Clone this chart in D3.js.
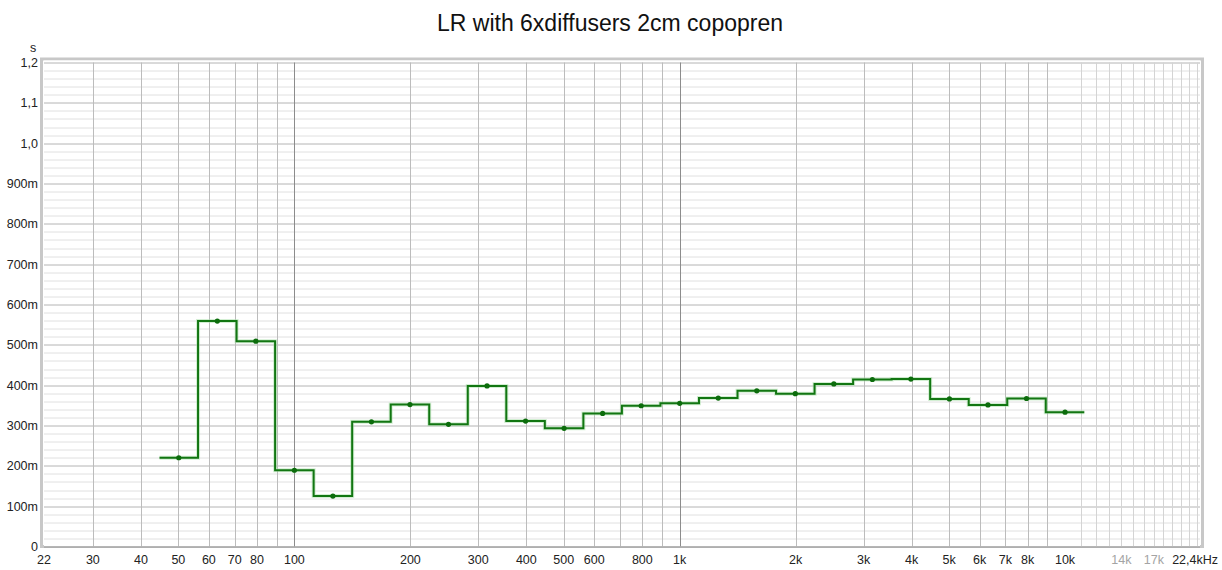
<!DOCTYPE html>
<html>
<head>
<meta charset="utf-8">
<script src="https://cdn.jsdelivr.net/npm/d3@7"></script>
<style>
  body { margin: 0; background: #fff; }
  text { font-family: "Liberation Sans", Arial, sans-serif; }
</style>
</head>
<body>
<div id="d3-container"></div>
<script>
// third octave band centres (Hz, nominal) and RT values (s)
const bands = [50, 63, 80, 100, 125, 160, 200, 250, 315, 400, 500, 630, 800,
  1000, 1250, 1600, 2000, 2500, 3150, 4000, 5000, 6300, 8000, 10000];
const rt = [0.220, 0.559, 0.509, 0.189, 0.125, 0.309, 0.352, 0.303, 0.398, 0.311, 0.293, 0.330, 0.349,
  0.355, 0.368, 0.386, 0.379, 0.403, 0.414, 0.415, 0.366, 0.351, 0.367, 0.333];

// tick labels
const xTicks = [22.4, 30, 40, 50, 60, 70, 80, 100, 200, 300, 400, 500, 600, 800,
  1000, 2000, 3000, 4000, 5000, 6000, 7000, 8000, 10000, 14000, 17000, 22400];
const xTickLabels = ["22", "30", "40", "50", "60", "70", "80", "100", "200", "300", "400", "500", "600", "800",
  "1k", "2k", "3k", "4k", "5k", "6k", "7k", "8k", "10k", "14k", "17k", "22,4kHz"];
const yTicks = [0, 0.1, 0.2, 0.3, 0.4, 0.5, 0.6, 0.7, 0.8, 0.9, 1.0, 1.1, 1.2];
const yTickLabels = ["0", "100m", "200m", "300m", "400m", "500m", "600m", "700m", "800m", "900m", "1,0", "1,1", "1,2"];

let margin = {top: 62.5, left: 44, right: 22, bottom: 23.5},
  width = 1222 - margin.left - margin.right,
  height = 570 - margin.top - margin.bottom;

let svg = d3.select('#d3-container')
  .append('svg')
  .attr('width', 1222)
  .attr('height', 570);

// title
svg.append('text')
  .attr('x', 610)
  .attr('y', 31)
  .attr('text-anchor', 'middle')
  .style('font-size', '23px')
  .attr('fill', '#111')
  .text('LR with 6xdiffusers 2cm copopren');

let g = svg.append('g')
  .attr('transform', `translate(${margin.left},${margin.top})`);

const x = d3.scaleLog()
  .domain([22.4, 22400])
  .range([0, width]);

const y = d3.scaleLinear()
  .domain([0, 1.2])
  .range([height, 0]);

// frame (grey bevel around plot)
g.append('rect')
  .attr('x', -2.5).attr('y', -3.5)
  .attr('width', width + 5).attr('height', height + 3.5)
  .attr('fill', 'none')
  .attr('stroke', '#c8c8c8')
  .attr('stroke-width', 3);
g.append('rect')
  .attr('x', 0).attr('y', -2)
  .attr('width', width).attr('height', height + 2)
  .attr('fill', '#fff');

// horizontal grid, minor every 20m
const yMinor = d3.range(0, 61).map(i => i * 0.02);
g.append('g')
  .selectAll('line')
  .data(yMinor)
  .join('line')
  .attr('x1', 0).attr('x2', width)
  .attr('y1', d => Math.round(y(d)) + 0.5)
  .attr('y2', d => Math.round(y(d)) + 0.5)
  .attr('stroke', (d, i) => i % 5 == 0 ? '#b4b4b4' : '#e0e0e0')
  .attr('stroke-width', 1);

// vertical grid
let xMinor = [];
[10, 100, 1000].forEach(dec => {
  for (let k = 1; k <= 9; k++) {
    let f = dec * k;
    if (f > 22.4) xMinor.push(f);
  }
});
for (let f = 11000; f <= 22000; f += 1000) xMinor.push(f);

g.append('g')
  .selectAll('line')
  .data(xMinor)
  .join('line')
  .attr('x1', d => Math.round(x(d)) + 0.5)
  .attr('x2', d => Math.round(x(d)) + 0.5)
  .attr('y1', 0).attr('y2', height)
  .attr('stroke', d => {
    if (d == 100 || d == 1000 || d == 10000) return '#8c8c8c';
    if (d > 10000) return '#d4d4d4';
    return '#bcbcbc';
  })
  .attr('stroke-width', 1);

// axis line at bottom
g.append('line')
  .attr('x1', 0).attr('x2', width)
  .attr('y1', height + 0.5).attr('y2', height + 0.5)
  .attr('stroke', '#a0a0a0');

// x labels
g.append('g')
  .selectAll('text')
  .data(xTicks)
  .join('text')
  .attr('x', d => x(d))
  .attr('y', height + 17)
  .attr('text-anchor', (d, i) => i == xTicks.length - 1 ? 'end' : 'middle')
  .attr('dx', (d, i) => i == xTicks.length - 1 ? 18 : 0)
  .style('font-size', '12.5px')
  .attr('fill', d => (d == 14000 || d == 17000) ? '#a4a4a4' : '#222')
  .text((d, i) => xTickLabels[i]);

// y labels
g.append('g')
  .selectAll('text')
  .data(yTicks)
  .join('text')
  .attr('x', -6)
  .attr('y', d => y(d) + 4.5)
  .attr('text-anchor', 'end')
  .style('font-size', '12.5px')
  .attr('fill', '#222')
  .text((d, i) => yTickLabels[i]);

// unit
g.append('text')
  .attr('x', -11)
  .attr('y', -11)
  .attr('text-anchor', 'middle')
  .style('font-size', '12.5px')
  .attr('fill', '#222')
  .text('s');

// step line: exact base-10 third octave centre, band edges at +/- 1/20 decade
const exact = f => Math.pow(10, Math.round(10 * Math.log10(f)) / 10);
const k6 = Math.pow(10, 0.05);
let steps = [];
bands.forEach((f, i) => {
  steps.push([exact(f) / k6, rt[i]]);
  steps.push([exact(f) * k6, rt[i]]);
});

const line = d3.line()
  .x(d => x(d[0]))
  .y(d => y(d[1]));

g.append('path')
  .datum(steps)
  .attr('d', line)
  .attr('fill', 'none')
  .attr('stroke', '#a8e0a8')
  .attr('stroke-opacity', 0.5)
  .attr('stroke-width', 4);

g.append('path')
  .datum(steps)
  .attr('d', line)
  .attr('fill', 'none')
  .attr('stroke', '#127612')
  .attr('stroke-width', 2);

g.append('g')
  .selectAll('circle')
  .data(bands)
  .join('circle')
  .attr('cx', d => x(exact(d)))
  .attr('cy', (d, i) => y(rt[i]))
  .attr('r', 2.6)
  .attr('fill', '#0c6c0c');
</script>
</body>
</html>
